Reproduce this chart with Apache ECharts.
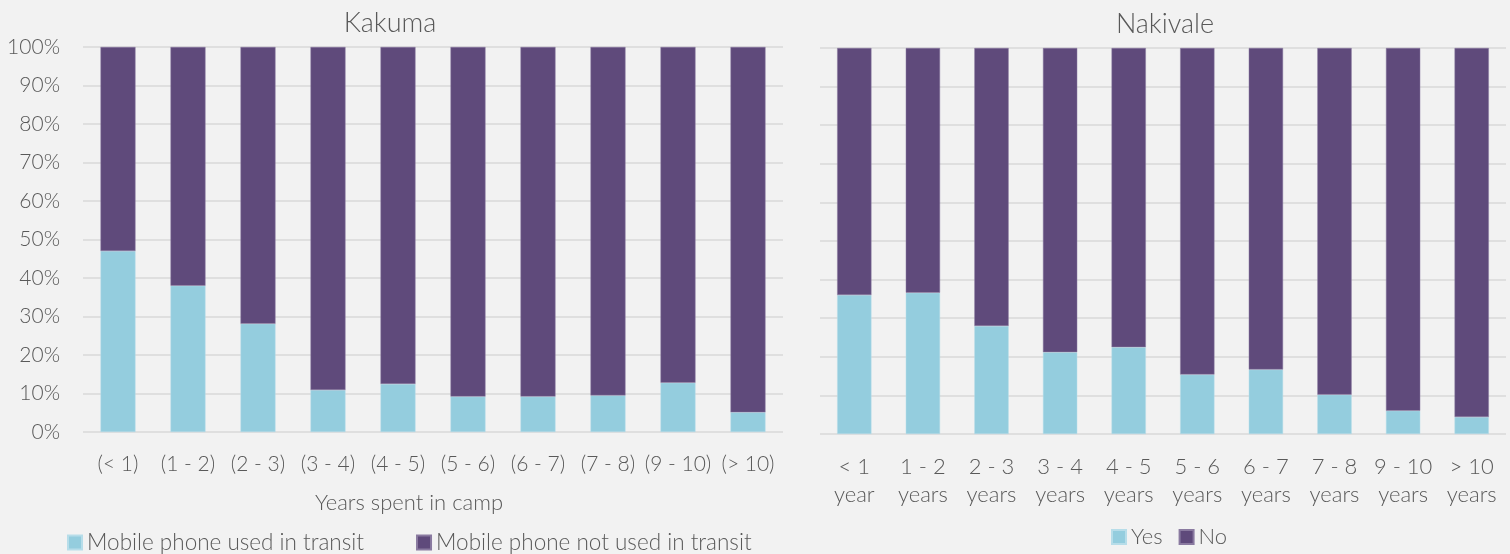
<!DOCTYPE html>
<html><head><meta charset="utf-8">
<script src="https://cdn.jsdelivr.net/npm/echarts@6/dist/echarts.min.js"></script>
<style>html,body{margin:0;padding:0;background:#f2f2f2}#c{width:1510px;height:554px}</style>
</head><body><div id="c"></div>
<script>
const kakumaCats = ["(< 1)","(1 - 2)","(2 - 3)","(3 - 4)","(4 - 5)","(5 - 6)","(6 - 7)","(7 - 8)","(9 - 10)","(> 10)"];
const kakumaUsed = [47.0, 38.0, 28.1, 10.9, 12.5, 9.2, 9.2, 9.5, 12.8, 5.1];
const kakumaNotUsed = kakumaUsed.map(v => +(100 - v).toFixed(1));
const nakivaleCats = ["< 1\nyear","1 - 2\nyears","2 - 3\nyears","3 - 4\nyears","4 - 5\nyears","5 - 6\nyears","6 - 7\nyears","7 - 8\nyears","9 - 10\nyears","> 10\nyears"];
const nakivaleYes = [36.0, 36.6, 28.0, 21.2, 22.5, 15.4, 16.7, 10.2, 6.0, 4.4];
const nakivaleNo = nakivaleYes.map(v => +(100 - v).toFixed(1));
const yTicks = [0,10,20,30,40,50,60,70,80,90,100];

const FONT = "Lato";
const GRAY = "#595959";
const BLUE = "#94CDDE";
const PURPLE = "#5F4A7B";
const chart = echarts.init(document.getElementById('c'));
const txt = (s) => ({fontFamily: FONT, fontWeight: 300, color: GRAY, fontSize: s});
chart.setOption({
  backgroundColor: '#f2f2f2',
  animation: false,
  title: [
    {text: 'Kakuma', left: 385, top: 5, textAlign: 'center', textStyle: txt(27)},
    {text: 'Nakivale', left: 1160, top: 6, textAlign: 'center', textStyle: txt(27)},
    {text: 'Years spent in camp', left: 404, top: 487, textAlign: 'center', textStyle: txt(22)}
  ],
  legend: [
    {data: ['Mobile phone used in transit','Mobile phone not used in transit'], left: 67, top: 531, padding: 0, itemWidth: 14, itemHeight: 14, itemGap: 52, textStyle: txt(22.5), icon: 'rect'},
    {data: ['Yes','No'], left: 1111, top: 526, padding: 0, itemWidth: 14, itemHeight: 14, itemGap: 16, textStyle: txt(22), icon: 'rect'}
  ],
  grid: [
    {left: 83, top: 47, width: 700, height: 385},
    {left: 820, top: 48, width: 686, height: 386}
  ],
  xAxis: [
    {type: 'category', gridIndex: 0, data: kakumaCats, axisLine: {show: false}, axisTick: {show: false},
     axisLabel: Object.assign(txt(21), {margin: 22, interval: 0})},
    {type: 'category', gridIndex: 1, data: nakivaleCats, axisLine: {show: false}, axisTick: {show: false},
     axisLabel: Object.assign(txt(22), {margin: 19, interval: 0, lineHeight: 28})}
  ],
  yAxis: [
    {type: 'value', gridIndex: 0, min: 0, max: 100, interval: 10,
     axisLabel: Object.assign(txt(21), {formatter: v => yTicks.includes(v) ? v + '%' : '', margin: 23}),
     splitLine: {lineStyle: {color: '#d9d9d9', width: 1.5}}, axisLine: {show: false}, axisTick: {show: false}},
    {type: 'value', gridIndex: 1, min: 0, max: 100, interval: 10,
     axisLabel: {show: false},
     splitLine: {lineStyle: {color: '#d9d9d9', width: 1.5}}, axisLine: {show: false}, axisTick: {show: false}}
  ],
  series: [
    {name: 'Mobile phone used in transit', type: 'bar', stack: 'k', xAxisIndex: 0, yAxisIndex: 0, data: kakumaUsed, barWidth: '50%', itemStyle: {color: BLUE, borderColor: '#b7dde9', borderWidth: 0.5}},
    {name: 'Mobile phone not used in transit', type: 'bar', stack: 'k', xAxisIndex: 0, yAxisIndex: 0, data: kakumaNotUsed, barWidth: '50%', itemStyle: {color: PURPLE, borderColor: '#8a7aa0', borderWidth: 0.5}},
    {name: 'Yes', type: 'bar', stack: 'n', xAxisIndex: 1, yAxisIndex: 1, data: nakivaleYes, barWidth: '50%', itemStyle: {color: BLUE, borderColor: '#b7dde9', borderWidth: 0.5}},
    {name: 'No', type: 'bar', stack: 'n', xAxisIndex: 1, yAxisIndex: 1, data: nakivaleNo, barWidth: '50%', itemStyle: {color: PURPLE, borderColor: '#8a7aa0', borderWidth: 0.5}}
  ]
});
</script></body></html>
